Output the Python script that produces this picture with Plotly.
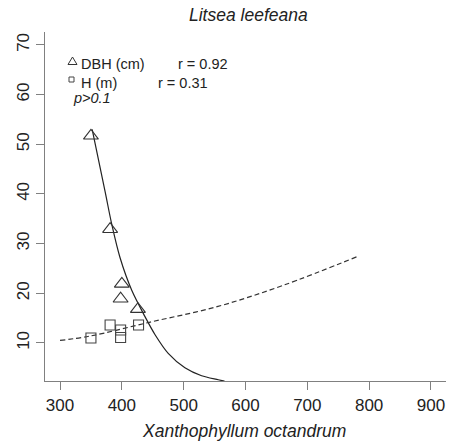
import plotly.graph_objects as go

# Observed values
dbh_x = [350, 381, 400, 398, 426]
dbh_y = [51.7, 32.9, 21.9, 18.9, 16.8]
h_x = [350, 381, 398, 398, 427]
h_y = [11.0, 13.6, 12.6, 11.1, 13.6]

# Fitted curves (sampled along each fit)
dbh_fit_x = [352, 373, 384, 397, 416, 437, 454, 475, 502, 529, 556, 566]
dbh_fit_y = [53.0, 40.4, 33.7, 27.2, 20.6, 15.4, 11.6, 7.9, 5.0, 3.4, 2.6, 2.3]
h_fit_x = [300, 349, 446, 554, 661, 783]
h_fit_y = [10.5, 11.4, 14.2, 17.3, 21.6, 27.5]

x_ticks = [300, 400, 500, 600, 700, 800, 900]
y_ticks = [10, 20, 30, 40, 50, 60, 70]

FONT = "Liberation Sans, Arial, sans-serif"
INK = "#222222"
AXIS = "#808080"

fig = go.Figure()
fig.add_trace(go.Scatter(x=dbh_fit_x, y=dbh_fit_y, mode="lines",
                         line=dict(color=INK, width=1.2, shape="spline", smoothing=0.8),
                         hoverinfo="skip"))
fig.add_trace(go.Scatter(x=h_fit_x, y=h_fit_y, mode="lines",
                         line=dict(color="#333333", width=1.2, dash="5px,3px", shape="spline"),
                         hoverinfo="skip"))
fig.add_trace(go.Scatter(x=dbh_x, y=dbh_y, mode="markers", name="DBH (cm)",
                         marker=dict(symbol="triangle-up-open", size=13,
                                     color="#333333", line=dict(width=1.1, color="#333333"))))
fig.add_trace(go.Scatter(x=h_x, y=h_y, mode="markers", name="H (m)",
                         marker=dict(symbol="square-open", size=10,
                                     color="#444444", line=dict(width=1.1, color="#444444"))))

L, R, T, B = 45, 5, 32, 65
W, H = 451, 446
pw, ph = W - L - R, H - T - B


def px(xp):
    return (xp - L) / pw


def py(yp):
    return (H - B - yp) / ph


ann = []


def text(s, x, y, size, xanchor="left", italic=False):
    ann.append(dict(text=f"<i>{s}</i>" if italic else s, xref="paper", yref="paper",
                    x=px(x), y=py(y), xanchor=xanchor, yanchor="middle",
                    showarrow=False, font=dict(family=FONT, size=size, color=INK)))


text("Litsea leefeana", 249, 15, 17.5, xanchor="center", italic=True)
text("Xanthophyllum octandrum", 244, 431, 17.5, xanchor="center", italic=True)
text("DBH (cm)", 79, 64, 14.5)
text("r = 0.92", 176, 64, 14.5)
text("H (m)", 79, 83, 14.5)
text("r = 0.31", 156, 83, 14.5)
text("p>0.1", 71, 98, 14.5, italic=True)

shapes = [
    dict(type="path", xref="paper", yref="paper", xsizemode="pixel", ysizemode="pixel",
         xanchor=px(72.5), yanchor=py(61.5), path="M-4.5,-3 L4.5,-3 L0,4.5 Z",
         line=dict(color="#333333", width=1)),
    dict(type="rect", xref="paper", yref="paper", xsizemode="pixel", ysizemode="pixel",
         xanchor=px(71.5), yanchor=py(79.5), x0=-2.5, x1=2.5, y0=-2.5, y1=2.5,
         line=dict(color="#444444", width=1)),
]

fig.update_layout(
    width=W, height=H, margin=dict(l=L, r=R, t=T, b=B),
    plot_bgcolor="white", paper_bgcolor="white", showlegend=False,
    annotations=ann, shapes=shapes,
    font=dict(family=FONT, color=INK),
)
fig.update_xaxes(range=[275.7, 924.3], tickvals=x_ticks, showgrid=False, zeroline=False,
                 showline=True, linecolor=AXIS, linewidth=1.3,
                 ticks="outside", ticklen=8, tickcolor=AXIS, tickwidth=1.3,
                 tickfont=dict(family=FONT, size=17, color=INK))
fig.update_yaxes(range=[2.34, 72.6], tickvals=y_ticks, showgrid=False, zeroline=False,
                 showline=True, linecolor=AXIS, linewidth=1.3,
                 ticks="outside", ticklen=8, tickcolor=AXIS, tickwidth=1.3, tickangle=-90,
                 tickfont=dict(family=FONT, size=17, color=INK))

fig.write_html("out.html")
